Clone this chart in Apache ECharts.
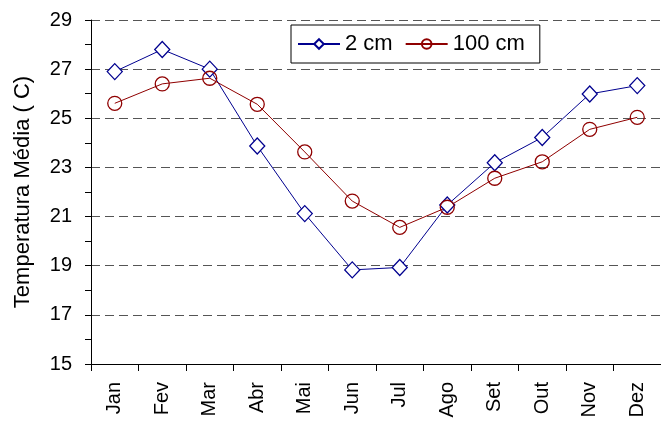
<!DOCTYPE html>
<html><head><meta charset="utf-8">
<script src="https://cdn.jsdelivr.net/npm/echarts@6/dist/echarts.min.js"></script>
<style>html,body{margin:0;padding:0;background:#fff}#c{width:661px;height:421px}</style>
</head><body><div id="c"></div>
<script>
var months = ['Jan','Fev','Mar','Abr','Mai','Jun','Jul','Ago','Set','Out','Nov','Dez'];
var s2cm = [26.9, 27.8, 27.0, 23.87, 21.12, 18.83, 18.93, 21.47, 23.19, 24.22, 25.99, 26.33];
var s100cm = [25.61, 26.4, 26.63, 25.57, 23.63, 21.63, 20.56, 21.38, 22.56, 23.23, 24.55, 25.04];
var seriesNames = ['2 cm', '100 cm'];
var yTitle = 'Temperatura Média ( C)';

var chart = echarts.init(document.getElementById('c'), null, {renderer:'canvas'});
var font = 'Liberation Sans, Arial, sans-serif';
chart.setOption({
  animation:false,
  backgroundColor:'#fff',
  textStyle:{fontFamily:font},
  grid:{left:91, right:-2, top:20, bottom:57, containLabel:false},
  legend:{
    left:291, top:25,
    borderColor:'#000', borderWidth:1, borderRadius:0,
    padding:[8,15,8,6], itemGap:12, itemWidth:42, itemHeight:12,
    textStyle:{fontSize:22, color:'#000', fontFamily:font},
    data:seriesNames
  },
  xAxis:{
    type:'category', data:months, boundaryGap:true,
    axisLine:{lineStyle:{color:'#000', width:1}},
    axisTick:{show:true, length:7, lineStyle:{color:'#000'}},
    axisLabel:{rotate:90, fontSize:20, color:'#000', margin:18, fontFamily:font},
    splitLine:{show:false}
  },
  yAxis:{
    type:'value', min:15, max:29, interval:2,
    name:yTitle, nameLocation:'middle', nameGap:57, nameRotate:90,
    nameTextStyle:{fontSize:22, color:'#000', fontFamily:font},
    axisLine:{show:true, lineStyle:{color:'#000', width:1}},
    axisTick:{show:true, length:6, lineStyle:{color:'#000'}},
    minorTick:{show:true, splitNumber:2, length:6, lineStyle:{color:'#000'}},
    axisLabel:{fontSize:20, color:'#000', margin:19, fontFamily:font},
    splitLine:{show:true, lineStyle:{color:'#555', type:[9,5], width:1}}
  },
  series:[
    {name:seriesNames[0], type:'line', data:s2cm, symbol:'diamond', symbolSize:[15,16],
     color:'#00008f', lineStyle:{color:'#00008f', width:1},
     itemStyle:{color:'#fff', borderColor:'#00008f', borderWidth:1.3}},
    {name:seriesNames[1], type:'line', data:s100cm, symbol:'circle', symbolSize:14,
     color:'#8f0000', lineStyle:{color:'#8f0000', width:1},
     itemStyle:{color:'rgba(255,255,255,0)', borderColor:'#8f0000', borderWidth:1.3}}
  ]
});
</script></body></html>
